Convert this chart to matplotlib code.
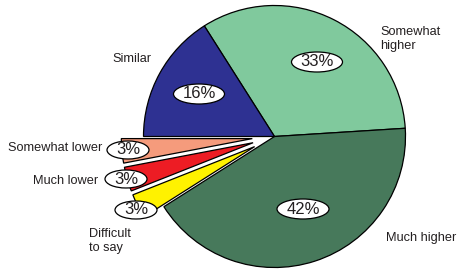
import matplotlib
matplotlib.use("Agg")
import matplotlib.pyplot as plt
from matplotlib.patches import Ellipse

categories = ["Somewhat higher", "Much higher", "Difficult to say", "Much lower", "Somewhat lower", "Similar"]
values = [33, 42, 3, 3, 3, 16]
pct_labels = ["33%", "42%", "3%", "3%", "3%", "16%"]
cat_labels = ["Somewhat\nhigher", "Much higher", "Difficult\nto say", "Much lower", "Somewhat lower", "Similar"]

colors = ["#80c99d", "#47795b", "#fff200", "#ed1c24", "#f59b7c", "#2e3192"]
explode_frac = [0, 0, 0.17, 0.17, 0.17, 0]

W, H = 458, 269
fig = plt.figure(figsize=(W / 100, H / 100), dpi=100)
ax = fig.add_axes([0, 0, 1, 1])

cx, cy, r = 274.5, H - 136.5, 131
wedges, _ = ax.pie(values, colors=colors, explode=[e * r for e in explode_frac],
                   startangle=122.4, counterclock=False, center=(cx, cy), radius=r,
                   frame=True, wedgeprops=dict(edgecolor="black", linewidth=0.9))
ax.set_xlim(0, W)
ax.set_ylim(0, H)
ax.axis("off")

# label positions in pixel coords (x, y from top)
pct_pos = [(317, 62), (303, 209), (136, 210), (126, 179), (128, 150), (199, 94)]
ell_size = [(51, 20), (52, 20), (42, 18), (42, 18), (42, 18), (51, 20)]
cat_pos = [(380, 39, "left"), (386, 238, "left"), (89, 241, "left"),
           (98, 181, "right"), (102, 148, "right"), (151, 59, "right")]

for lab, (x, y), (w, h) in zip(pct_labels, pct_pos, ell_size):
    ax.add_patch(Ellipse((x, H - y), w, h, fc="white", ec="black", lw=0.9, zorder=5))
    ax.text(x, H - y, lab, ha="center", va="center", fontsize=12,
            family="Liberation Sans", color="#231f20", zorder=6)

for lab, (x, y, ha) in zip(cat_labels, cat_pos):
    ax.text(x, H - y, lab, ha=ha, va="center", fontsize=9.2,
            family="Liberation Sans", color="#231f20", linespacing=1.2)

fig.savefig("out.png", dpi=100)
